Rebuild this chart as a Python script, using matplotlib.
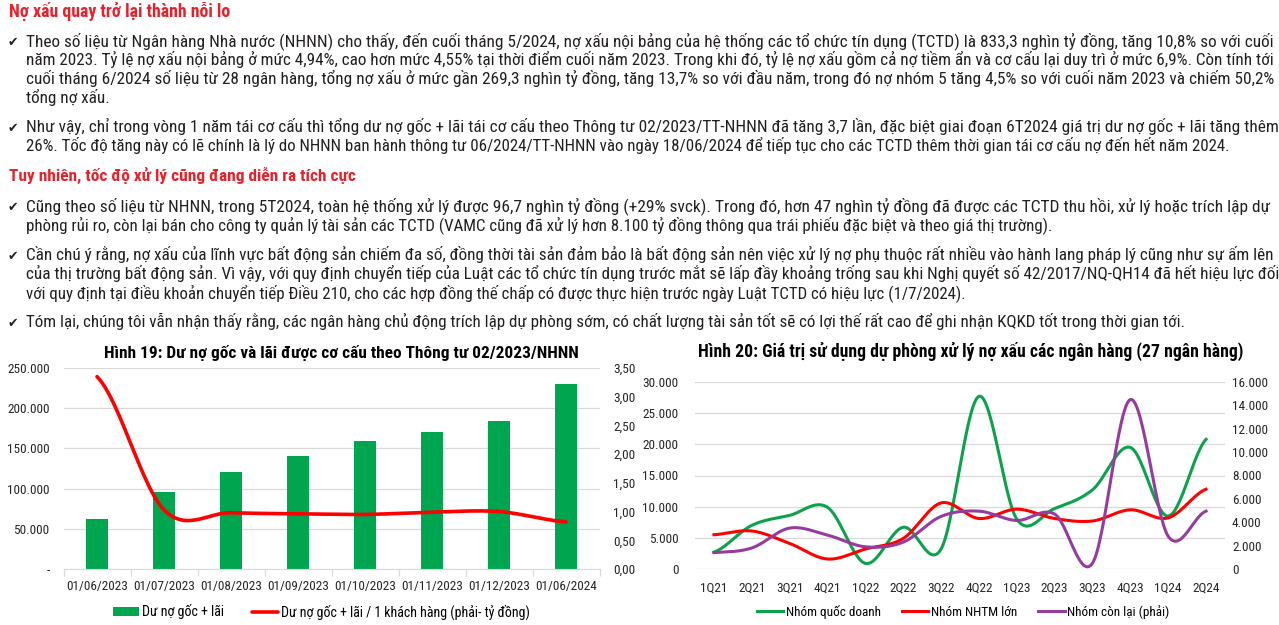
import numpy as np
import matplotlib
matplotlib.use('Agg')
import matplotlib.pyplot as plt
from matplotlib import font_manager as fm
from matplotlib.ticker import FuncFormatter, FixedLocator

# ---------------- data ----------------
dates = ['01/06/2023', '01/07/2023', '01/08/2023', '01/09/2023',
         '01/10/2023', '01/11/2023', '01/12/2023', '01/06/2024']
du_no = [62500, 96000, 121000, 141000, 159000, 171000, 184000, 230000]
du_no_kh = [3.35, 1.03, 0.98, 0.96, 0.95, 0.99, 1.00, 0.82]

quarters = ['1Q21', '2Q21', '3Q21', '4Q21', '1Q22', '2Q22', '3Q22',
            '4Q22', '1Q23', '2Q23', '3Q23', '4Q23', '1Q24', '2Q24']
quoc_doanh = [2700, 7000, 8600, 9900, 900, 6700, 3200, 27700, 8000, 9700, 12700, 19500, 8500, 20800]
nhtm_lon = [5500, 6100, 4100, 1600, 3200, 4900, 10600, 8100, 9600, 8100, 7700, 9500, 8200, 12800]
con_lai = [1400, 1800, 3500, 2900, 1900, 2300, 4500, 4950, 4150, 4700, 500, 14500, 2800, 4950]

title1 = 'Hình 19: Dư nợ gốc và lãi được cơ cấu theo Thông tư 02/2023/NHNN'
title2 = 'Hình 20: Giá trị sử dụng dự phòng xử lý nợ xấu các ngân hàng (27 ngân hàng)'
leg1 = ['Dư nợ gốc + lãi', 'Dư nợ gốc + lãi / 1 khách hàng (phải- tỷ đồng)']
leg2 = ['Nhóm quốc doanh', 'Nhóm NHTM lớn', 'Nhóm còn lại (phải)']

heading1 = 'Nợ xấu quay trở lại thành nỗi lo'
heading2 = 'Tuy nhiên, tốc độ xử lý cũng đang diễn ra tích cực'
para1 = ['Theo số liệu từ Ngân hàng Nhà nước (NHNN) cho thấy, đến cuối tháng 5/2024, nợ xấu nội bảng của hệ thống các tổ chức tín dụng (TCTD) là 833,3 nghìn tỷ đồng, tăng 10,8% so với cuối',
         'năm 2023. Tỷ lệ nợ xấu nội bảng ở mức 4,94%, cao hơn mức 4,55% tại thời điểm cuối năm 2023. Trong khi đó, tỷ lệ nợ xấu gồm cả nợ tiềm ẩn và cơ cấu lại duy trì ở mức 6,9%. Còn tính tới',
         'cuối tháng 6/2024 số liệu từ 28 ngân hàng, tổng nợ xấu ở mức gần 269,3 nghìn tỷ đồng, tăng 13,7% so với đầu năm, trong đó nợ nhóm 5 tăng 4,5% so với cuối năm 2023 và chiếm 50,2%',
         'tổng nợ xấu.']
para2 = ['Như vậy, chỉ trong vòng 1 năm tái cơ cấu thì tổng dư nợ gốc + lãi tái cơ cấu theo Thông tư 02/2023/TT-NHNN đã tăng 3,7 lần, đặc biệt giai đoạn 6T2024 giá trị dư nợ gốc + lãi tăng thêm',
         '26%. Tốc độ tăng này có lẽ chính là lý do NHNN ban hành thông tư 06/2024/TT-NHNN vào ngày 18/06/2024 để tiếp tục cho các TCTD thêm thời gian tái cơ cấu nợ đến hết năm 2024.']
para3 = ['Cũng theo số liệu từ NHNN, trong 5T2024, toàn hệ thống xử lý được 96,7 nghìn tỷ đồng (+29% svck). Trong đó, hơn 47 nghìn tỷ đồng đã được các TCTD thu hồi, xử lý hoặc trích lập dự',
         'phòng rủi ro, còn lại bán cho công ty quản lý tài sản các TCTD (VAMC cũng đã xử lý hơn 8.100 tỷ đồng thông qua trái phiếu đặc biệt và theo giá thị trường).']
para4 = ['Cần chú ý rằng, nợ xấu của lĩnh vực bất động sản chiếm đa số, đồng thời tài sản đảm bảo là bất động sản nên việc xử lý nợ phụ thuộc rất nhiều vào hành lang pháp lý cũng như sự ấm lên',
         'của thị trường bất động sản. Vì vậy, với quy định chuyển tiếp của Luật các tổ chức tín dụng trước mắt sẽ lấp đầy khoảng trống sau khi Nghị quyết số 42/2017/NQ-QH14 đã hết hiệu lực đối',
         'với quy định tại điều khoản chuyển tiếp Điều 210, cho các hợp đồng thế chấp có được thực hiện trước ngày Luật TCTD có hiệu lực (1/7/2024).']
para5 = ['Tóm lại, chúng tôi vẫn nhận thấy rằng, các ngân hàng chủ động trích lập dự phòng sớm, có chất lượng tài sản tốt sẽ có lợi thế rất cao để ghi nhận KQKD tốt trong thời gian tới.']

# ---------------- fonts ----------------
names = {f.name for f in fm.fontManager.ttflist}
def pick(*cands):
    for n in cands:
        if n in names:
            return n
    return 'DejaVu Sans'
NARROW = pick('Liberation Sans Narrow', 'Roboto Condensed', 'Liberation Sans', 'Roboto')
plt.rcParams['font.family'] = [NARROW, 'DejaVu Sans']

W, H = 1279, 625
fig = plt.figure(figsize=(W / 100, H / 100), dpi=100)
fig.patch.set_facecolor('white')
renderer = fig.canvas.get_renderer()

TXT = '#231F20'
RED_H = '#E8202A'

def fit_text(x0, x1, base_y, s, **kw):
    t = fig.text(x0 / W, 1 - base_y / H, s, fontsize=10, va='baseline', ha='left', **kw)
    w = t.get_window_extent(renderer).width
    t.set_fontsize(10 * (x1 - x0) / w)
    return t

def check(base_y):
    fig.text(8 / W, 1 - base_y / H, '✔', fontsize=9, family='DejaVu Sans',
             color=TXT, va='baseline', ha='left')

# headings
fit_text(9.3, 230.6, 16.7, heading1, color=RED_H, weight='bold')
fit_text(9.3, 355, 181, heading2, color=RED_H, weight='bold')

def para(lines, baselines, ends):
    check(baselines[0])
    for s, b, e in zip(lines, baselines, ends):
        fit_text(26.5, e, b, s, color=TXT)

para(para1, [46, 65, 84, 103], [1270, 1270, 1270, 110])
para(para2, [132, 151], [1271, 1221])
para(para3, [211, 230], [1268, 1049])
para(para4, [260, 279, 298], [1270, 1270, 960])
para(para5, [327], [1181])

# ---------------- smoothing (Excel style Catmull-Rom) ----------------
def smooth(y, n=30):
    y = np.asarray(y, float)
    x = np.arange(len(y), dtype=float)
    p = np.concatenate([[y[0]], y, [y[-1]]])
    xs, ys = [], []
    for i in range(len(y) - 1):
        p0, p1, p2, p3 = p[i], p[i + 1], p[i + 2], p[i + 3]
        m1 = (p2 - p0) / 2
        m2 = (p3 - p1) / 2
        t = np.linspace(0, 1, n, endpoint=(i == len(y) - 2))
        h00 = 2 * t**3 - 3 * t**2 + 1
        h10 = t**3 - 2 * t**2 + t
        h01 = -2 * t**3 + 3 * t**2
        h11 = t**3 - t**2
        xs.append(x[i] + t)
        ys.append(h00 * p1 + h10 * m1 + h01 * p2 + h11 * m2)
    return np.concatenate(xs), np.concatenate(ys)

def thou(v, pos=None):
    return f'{int(round(v)):,}'.replace(',', '.')

GRID = '#D9D9D9'
TICK = '#262626'
FS = 9.5

# ---------------- chart 1 ----------------
ax1 = fig.add_axes([63.5 / W, 1 - 569 / H, 536 / W, 201 / H])
x1 = np.arange(len(dates))
bars = ax1.bar(x1, du_no, width=0.32, color='#00A550', label=leg1[0], zorder=2)
ax1.set_xlim(-0.5, len(dates) - 0.5)
ax1.set_ylim(0, 250000)
ax1.yaxis.set_major_locator(FixedLocator(np.arange(0, 250001, 50000)))
ax1.yaxis.set_major_formatter(FuncFormatter(lambda v, p: '-' if v == 0 else thou(v)))
ax1.yaxis.grid(True, color=GRID, lw=0.9, zorder=0)
ax1.set_axisbelow(True)
ax1.set_xticks(x1)
ax1.set_xticklabels(dates)
ax1.set_xticks(np.arange(-0.5, len(dates), 1), minor=True)
for s in ['top', 'right', 'left']:
    ax1.spines[s].set_visible(False)
ax1.spines['bottom'].set_color(GRID)
ax1.tick_params(axis='x', which='major', length=0, pad=8, labelsize=FS, labelcolor=TICK)
ax1.tick_params(axis='x', which='minor', length=5, color=GRID, width=0.9)
ax1.tick_params(axis='y', length=0, pad=10, labelsize=FS, labelcolor=TICK)

ax1r = ax1.twinx()
sx, sy = smooth(du_no_kh)
line1, = ax1r.plot(sx, sy, color='#FF0000', lw=2.6, solid_capstyle='round', label=leg1[1])
ax1r.set_ylim(0, 3.5)
ax1r.yaxis.set_major_locator(FixedLocator(np.arange(0, 3.51, 0.5)))
ax1r.yaxis.set_major_formatter(FuncFormatter(lambda v, p: f'{v:.2f}'.replace('.', ',')))
for s in ax1r.spines.values():
    s.set_visible(False)
ax1r.tick_params(axis='y', length=0, pad=10, labelsize=FS, labelcolor=TICK)

fig.text(341.5 / W, 1 - 358 / H, title1, ha='center', va='baseline')
t1 = fig.texts[-1]
t1.set_fontsize(10); t1.set_weight('bold')
w = t1.get_window_extent(renderer).width
t1.set_fontsize(10 * 473 / w)

fig.legend([bars, line1], leg1, loc='center', bbox_to_anchor=(321.5 / W, 1 - 612 / H),
           ncol=2, frameon=False, fontsize=10, handlelength=1.9, handleheight=0.6,
           handletextpad=0.2, columnspacing=2.0, borderaxespad=0, borderpad=0)

# ---------------- chart 2 ----------------
ax2 = fig.add_axes([695 / W, 1 - 569 / H, 530 / W, 187 / H])
x2 = np.arange(len(quarters))
gx, gy = smooth(quoc_doanh)
rx, ry = smooth(nhtm_lon)
l_g, = ax2.plot(gx, gy, color='#0BA24B', lw=2.2, label=leg2[0], zorder=3)
l_r, = ax2.plot(rx, ry, color='#FF0000', lw=2.2, label=leg2[1], zorder=3)
ax2.set_xlim(-0.5, len(quarters) - 0.5)
ax2.set_ylim(0, 30000)
ax2.yaxis.set_major_locator(FixedLocator(np.arange(0, 30001, 5000)))
ax2.yaxis.set_major_formatter(FuncFormatter(thou))
ax2.yaxis.grid(True, color=GRID, lw=0.9, zorder=0)
ax2.set_axisbelow(True)
ax2.set_xticks(x2)
ax2.set_xticklabels(quarters)
for s in ax2.spines.values():
    s.set_visible(False)
ax2.tick_params(axis='x', length=0, pad=9, labelsize=FS, labelcolor=TICK)
ax2.tick_params(axis='y', length=0, pad=12, labelsize=FS, labelcolor=TICK)

ax2r = ax2.twinx()
px, py = smooth(con_lai)
l_p, = ax2r.plot(px, py, color='#973C9F', lw=2.2, label=leg2[2])
ax2r.set_ylim(0, 16000)
ax2r.yaxis.set_major_locator(FixedLocator(np.arange(0, 16001, 2000)))
ax2r.yaxis.set_major_formatter(FuncFormatter(thou))
for s in ax2r.spines.values():
    s.set_visible(False)
ax2r.tick_params(axis='y', length=0, pad=5, labelsize=FS, labelcolor=TICK)

fig.text(971 / W, 1 - 357 / H, title2, ha='center', va='baseline')
t2 = fig.texts[-1]
t2.set_fontsize(10); t2.set_weight('bold')
w = t2.get_window_extent(renderer).width
t2.set_fontsize(10 * 542 / w)

fig.legend([l_g, l_r, l_p], leg2, loc='center', bbox_to_anchor=(963 / W, 1 - 612 / H),
           ncol=3, frameon=False, fontsize=9.5, handlelength=2.0,
           handletextpad=0.2, columnspacing=1.6, borderaxespad=0, borderpad=0)

fig.savefig('out.png', dpi=100, facecolor='white')
